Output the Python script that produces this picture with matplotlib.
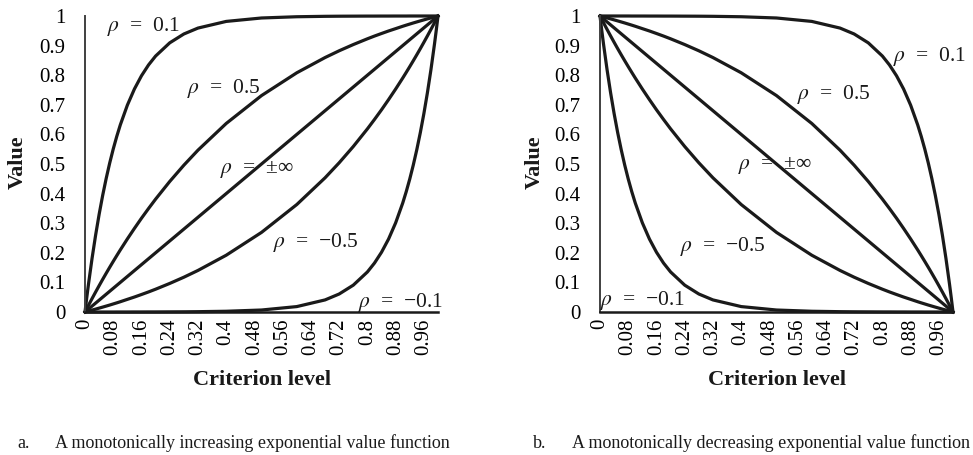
import matplotlib
matplotlib.use("Agg")
import matplotlib.pyplot as plt
import numpy as np

plt.rcParams['font.family'] = ['Liberation Serif', 'DejaVu Serif']
plt.rcParams['mathtext.fontset'] = 'stix'

# Criterion level sample points (x)
criterion = [0, 0.005, 0.01, 0.02, 0.03, 0.04, 0.05, 0.06, 0.07, 0.08, 0.09,
             0.10, 0.12, 0.14, 0.16, 0.18, 0.20, 0.24, 0.28, 0.32, 0.40, 0.50,
             0.60, 0.68, 0.72, 0.76, 0.80, 0.82, 0.84, 0.86, 0.88, 0.90, 0.91,
             0.92, 0.93, 0.94, 0.95, 0.96, 0.97, 0.98, 0.99, 0.995, 1.0]

# Increasing value functions (panel a); panel b shows them mirrored
rho_p01 = [0, 0.0488, 0.0952, 0.1813, 0.2592, 0.3297, 0.3935, 0.4512, 0.5034,
           0.5507, 0.5934, 0.6321, 0.6988, 0.7534, 0.7981, 0.8347, 0.8647,
           0.9093, 0.9392, 0.9592, 0.9817, 0.9933, 0.9975, 0.9989, 0.9993,
           0.9995, 0.9997, 0.9997, 0.9998, 0.9998, 0.9999, 0.9999, 0.9999,
           1.0, 1.0, 1.0, 1.0, 1.0, 1.0, 1.0, 1.0, 1.0, 1.0]
rho_p05 = [0, 0.0115, 0.0229, 0.0453, 0.0673, 0.0889, 0.1101, 0.1308, 0.1511,
           0.1710, 0.1905, 0.2097, 0.2468, 0.2824, 0.3168, 0.3496, 0.3813,
           0.4409, 0.4959, 0.5467, 0.6369, 0.7311, 0.8082, 0.8596, 0.8825,
           0.9035, 0.9230, 0.9322, 0.9409, 0.9494, 0.9573, 0.9653, 0.9691,
           0.9728, 0.9765, 0.9800, 0.9835, 0.9869, 0.9903, 0.9935, 0.9968,
           0.9984, 1.0]
rho_m05 = [0, 0.0016, 0.0032, 0.0065, 0.0097, 0.0131, 0.0165, 0.0200, 0.0235,
           0.0272, 0.0309, 0.0347, 0.0427, 0.0506, 0.0591, 0.0678, 0.0770,
           0.0965, 0.1175, 0.1404, 0.1918, 0.2689, 0.3631, 0.4533, 0.5041,
           0.5591, 0.6187, 0.6504, 0.6832, 0.7176, 0.7532, 0.7903, 0.8095,
           0.8290, 0.8489, 0.8692, 0.8899, 0.9111, 0.9327, 0.9547, 0.9771,
           0.9885, 1.0]
rho_m01 = [0, 0, 0, 0, 0, 0, 0, 0, 0, 0, 0.0001, 0.0001, 0.0001, 0.0002,
           0.0002, 0.0003, 0.0003, 0.0005, 0.0007, 0.0011, 0.0025, 0.0067,
           0.0183, 0.0408, 0.0608, 0.0907, 0.1353, 0.1653, 0.2019, 0.2466,
           0.3012, 0.3679, 0.4066, 0.4493, 0.4966, 0.5488, 0.6065, 0.6703,
           0.7408, 0.8187, 0.9048, 0.9512, 1.0]
linear_x = [0, 1.0]
linear_y = [0, 1.0]

xtick_vals = [0, 0.08, 0.16, 0.24, 0.32, 0.4, 0.48, 0.56, 0.64, 0.72, 0.8, 0.88, 0.96]
xtick_labels = ['0', '0.08', '0.16', '0.24', '0.32', '0.4', '0.48', '0.56',
                '0.64', '0.72', '0.8', '0.88', '0.96']
ytick_vals = [0, 0.1, 0.2, 0.3, 0.4, 0.5, 0.6, 0.7, 0.8, 0.9, 1.0]
ytick_labels = ['0', '0.1', '0.2', '0.3', '0.4', '0.5', '0.6', '0.7', '0.8', '0.9', '1']

curve_labels = ['$\\rho$  =  0.1', '$\\rho$  =  0.5', '$\\rho$  =  \u00b1\u221e',
                '$\\rho$  =  \u22120.5', '$\\rho$  =  \u22120.1']

captions = ['a.', 'b.']
caption_texts = ['A monotonically increasing exponential value function',
                 'A monotonically decreasing exponential value function']

W, H = 973, 455
fig = plt.figure(figsize=(W / 100, H / 100), dpi=100)

LINE = '#1a1a1a'
LW = 2.3


def make_axes(left_px):
    ax = fig.add_axes([left_px / W, 1 - 312 / H, 353 / W, 296 / H])
    ax.set_xlim(0, 1)
    ax.set_ylim(0, 1)
    for s in ['top', 'right']:
        ax.spines[s].set_visible(False)
    ax.spines['left'].set_color('#404040')
    ax.spines['left'].set_linewidth(1.4)
    ax.spines['bottom'].set_color('#1a1a1a')
    ax.spines['bottom'].set_linewidth(1.8)
    ax.set_xticks(xtick_vals)
    ax.set_xticklabels(xtick_labels, rotation=90, fontsize=15)
    ax.set_yticks(ytick_vals)
    ax.set_yticklabels(ytick_labels, fontsize=15)
    ax.tick_params(axis='both', length=0)
    ax.tick_params(axis='y', pad=14)
    ax.tick_params(axis='x', pad=5)
    ax.patch.set_alpha(0)
    return ax


x = np.array(criterion)

# Panel a
ax1 = make_axes(85)
for ys in [rho_p01, rho_p05, rho_m05, rho_m01]:
    ax1.plot(x, ys, color=LINE, lw=LW, clip_on=False, solid_capstyle='round')
ax1.plot(linear_x, linear_y, color=LINE, lw=LW, clip_on=False)

pos_a = [(107, 27), (187, 88), (220, 170), (273, 243), (358, 303)]
for (px, py), lab in zip(pos_a, curve_labels):
    ax1.text((px - 85) / 353, (312 - py) / 296, lab, fontsize=15.5,
             ha='left', va='center', color='#1a1a1a')

# Panel b (mirrored curves)
ax2 = make_axes(600)
for ys in [rho_p01, rho_p05, rho_m05, rho_m01]:
    ax2.plot(x, ys[::-1], color=LINE, lw=LW, clip_on=False, solid_capstyle='round')
ax2.plot(linear_x, linear_y[::-1], color=LINE, lw=LW, clip_on=False)

pos_b = [(893, 57), (797, 95), (738, 165), (680, 247), (600, 300)]
for (px, py), lab in zip(pos_b, curve_labels):
    ax2.text((px - 600) / 353, (312 - py) / 296, lab, fontsize=15.5,
             ha='left', va='center', color='#1a1a1a')

for cx, vx in [(262, 18), (777, 535)]:
    fig.text(cx / W, 1 - 380 / H, 'Criterion level', fontsize=16,
             fontweight='bold', ha='center', va='center', color='#1a1a1a')
    fig.text(vx / W, 1 - 162 / H, 'Value', fontsize=16, fontweight='bold',
             rotation=90, ha='center', va='center', color='#1a1a1a')

for (lx, tx), c, t in zip([(17, 55), (533, 572)], captions, caption_texts):
    fig.text(lx / W, 1 - 443 / H, c, fontsize=13, ha='left', va='center', color='#1a1a1a')
    fig.text(tx / W, 1 - 443 / H, t, fontsize=13, ha='left', va='center', color='#1a1a1a')

fig.savefig('out.png', dpi=100)
